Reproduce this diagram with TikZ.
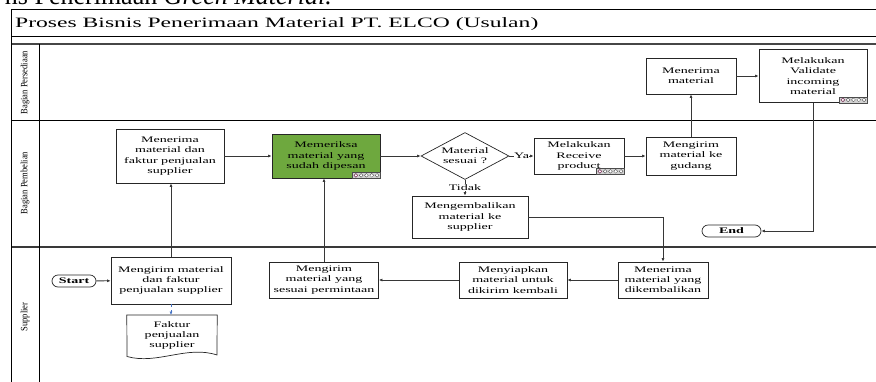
\documentclass[tikz,border=0pt]{standalone}
\usepackage{fontspec}
\setmainfont{Liberation Serif}
\newfontfamily\wfont[FakeStretch=1.65]{Liberation Serif}
\usetikzlibrary{shapes.geometric,arrows.meta}
\definecolor{grn}{RGB}{110,168,62}
\definecolor{conn}{RGB}{55,55,55}
\definecolor{dblue}{RGB}{68,114,196}
\newcommand\boxtxt{\wfont\fontsize{8.5}{10.2}\selectfont}
\newcommand\lanetxt[1]{\rotatebox{90}{\scalebox{0.88}[1]{\fontsize{9.7}{10}\selectfont #1}}}
\tikzset{
  box/.style={draw=black!85, line width=0.7pt, fill=white, align=center, inner sep=0pt, font=\boxtxt},
  term/.style={draw=black!85, line width=0.7pt, fill=white, rounded corners=6pt, inner sep=0pt, font=\boxtxt\bfseries},
  dec/.style={draw=black!85, line width=0.7pt, fill=white, diamond, aspect=1.87, inner sep=0pt, align=center, font=\boxtxt},
  conn/.style={draw=conn, line width=0.8pt, -{Latex[length=3.5pt,width=3pt]}},
  lbl/.style={fill=white, inner sep=0.5pt, font=\boxtxt},
  mkr/.pic={
    \draw[gray!60!black, line width=0.4pt, fill=gray!35] (-28,-6) rectangle (0,0);
    \foreach \i in {0,...,4}{\draw[gray!50!black, line width=0.3pt, fill=white] (-24.5+\i*5.3,-3) circle (1.9);}
    \draw[magenta!60!black, line width=0.4pt] (-24.5,-3) circle (1.9);
  }
}
\begin{document}
\begin{tikzpicture}[x=1pt,y=-1pt]
\useasboundingbox (0,0) rectangle (876,381);
\clip (0,0) rectangle (876,381);

% text of the surrounding page, cut off
\node[anchor=base east, inner sep=0pt, font=\fontsize{26}{28}\selectfont] (pagetxt) at (332,4.5) {ns Penerimaan \textit{Green Material.}};

% frame
\draw[black, line width=1pt] (11,9.5) -- (880,9.5);
\draw[black, line width=1pt] (11,36) -- (880,36);
\draw[gray!55!black, line width=1.5pt] (11,44) -- (880,44);
\draw[black, line width=1pt] (11,120) -- (880,120);
\draw[gray!45!black, line width=2pt] (11,246.5) -- (880,246.5);
\draw[black, line width=1pt] (11,9.5) -- (11,390);
\draw[black, line width=1pt] (39.5,44) -- (39.5,390);

\node[anchor=base west, inner sep=0pt, font=\wfont\fontsize{14.3}{16}\selectfont] (title) at (15,27) {Proses Bisnis Penerimaan Material PT. ELCO (Usulan)};

\node (l1) at (25,82.5) {\lanetxt{Bagian Persediaan}};
\node (l2) at (25,183) {\lanetxt{Bagian Pembelian}};
\node (l3) at (25,317) {\lanetxt{Supplier}};

% nodes
\node[box, minimum width=108, minimum height=54] (terima) at (170,156) {Menerima\\material dan\\faktur penjualan\\supplier};
\node[box, fill=grn, minimum width=108, minimum height=44] (periksa) at (326,156) {Memeriksa\\material yang\\sudah dipesan};
\pic at (periksa.south east) {mkr};
\node[dec, minimum width=88, minimum height=47] (sesuai) at (465,156) {Material\\sesuai ?};
\node[box, minimum width=90, minimum height=36] (receive) at (579,156) {Melakukan\\Receive\\product};
\pic at (receive.south east) {mkr};
\node[box, minimum width=90, minimum height=38] (gudang) at (691,156) {Mengirim\\material ke\\gudang};
\node[box, minimum width=90, minimum height=36] (mnrm) at (691,76) {Menerima\\material};
\node[box, minimum width=108, minimum height=53] (valid) at (813,76) {Melakukan\\Validate\\incoming\\material};
\pic at (valid.south east) {mkr};
\node[term, minimum width=59, minimum height=12] (end) at (731.5,231) {End};
\node[box, minimum width=116, minimum height=42] (kembali) at (470,217) {Mengembalikan\\material ke\\supplier};
\node[box, minimum width=90, minimum height=36] (dikemb) at (663,280) {Menerima\\material yang\\dikembalikan};
\node[box, minimum width=108, minimum height=36] (siap) at (513,280) {Menyiapkan\\material untuk\\dikirim kembali};
\node[box, minimum width=109, minimum height=36] (kirim2) at (324,280) {Mengirim\\material yang\\sesuai permintaan};
\node[box, minimum width=120, minimum height=47] (kirim1) at (171,280.5) {Mengirim material\\dan faktur\\penjualan supplier};
\node[term, minimum width=44, minimum height=12] (start) at (74,281) {Start};

% document
\node[inner sep=0pt, minimum width=90, minimum height=40, align=center, font=\boxtxt, anchor=north] (faktur) at (172,315) {Faktur\\penjualan\\supplier};
\draw[black!85, line width=0.7pt] (faktur.north west) -- (faktur.north east) -- (217,355) .. controls (187,345) and (157,365) .. (127,356.5) -- cycle;

% connectors
\draw[conn] (start) -- (kirim1);
\draw[conn] (kirim1.north) -- (kirim1.north|-terima.south);
\draw[conn] (terima) -- (periksa);
\draw[conn] (periksa) -- (sesuai);
\draw[conn] (sesuai.east) -- node[lbl] {Ya} (receive.west);
\draw[conn] (receive) -- (gudang);
\draw[conn] (gudang) -- (mnrm);
\draw[conn] (mnrm) -- (valid);
\draw[conn] (valid.south) |- (end.east);
\draw[conn] (sesuai.south) -- node[lbl] {Tidak} (sesuai.south|-kembali.north);
\draw[conn] (kembali.east) -| (dikemb.north);
\draw[conn] (dikemb) -- (siap);
\draw[conn] (siap) -- (kirim2);
\draw[conn] (kirim2.north) -- (kirim2.north|-periksa.south);
\draw[conn, draw=dblue, dashed, line width=0.6pt] (kirim1.south) -- (kirim1.south|-faktur.north);
\end{tikzpicture}
\end{document}
